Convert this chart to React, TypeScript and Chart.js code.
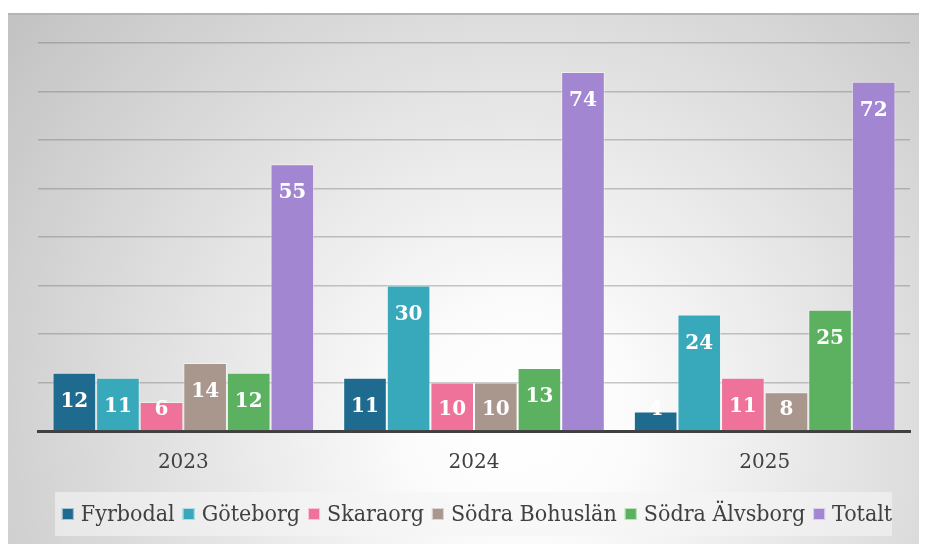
import React, { useEffect, useRef } from "react";
import { Chart, registerables } from "chart.js";

Chart.register(...registerables);

const categories = ["2023", "2024", "2025"];
const seriesNames = ["Fyrbodal", "Göteborg", "Skaraorg", "Södra Bohuslän", "Södra Älvsborg", "Totalt"];
const fyrbodal = [12, 11, 4];
const goteborg = [11, 30, 24];
const skaraorg = [6, 10, 11];
const sodraBohuslan = [14, 10, 8];
const sodraAlvsborg = [12, 13, 25];
const totalt = [55, 74, 72];
const seriesValues = [fyrbodal, goteborg, skaraorg, sodraBohuslan, sodraAlvsborg, totalt];
const seriesColors = ["#1f6b8f", "#37a9bb", "#ee7299", "#a9968c", "#5cb160", "#a286d1"];
const yMax = 80;
const yStep = 10;

const backgroundPlugin = {
  id: "panelBg",
  beforeDraw(chart: any) {
    const { ctx, width, height } = chart;
    ctx.save();
    const g = ctx.createRadialGradient(512, 412, 0, 512, 412, 700);
    g.addColorStop(0, "#ffffff");
    g.addColorStop(0.15, "#fcfcfc");
    g.addColorStop(1, "#bdbdbd");
    ctx.fillStyle = g;
    ctx.fillRect(0, 5, width, height - 5);
    ctx.fillStyle = "#b4b4b4";
    ctx.fillRect(0, 5, width, 2);
    // legend box
    ctx.fillStyle = "rgba(245,245,245,0.6)";
    ctx.fillRect(47, 484, 837, 44);
    ctx.restore();
  },
};

const legendPlugin = {
  id: "customLegend",
  afterDraw(chart: any) {
    const { ctx } = chart;
    ctx.save();
    ctx.font = "23px 'DejaVu Serif Condensed', 'DejaVu Serif', serif";
    ctx.textBaseline = "middle";
    ctx.textAlign = "left";
    const box = 12;
    const gapText = 7;
    const gapItem = 8;
    const items = chart.data.datasets.map((d: any) => ({
      label: d.label,
      color: d.backgroundColor,
      w: ctx.measureText(d.label).width,
    }));
    const total = items.reduce((s: number, it: any) => s + box + gapText + it.w, 0) + gapItem * (items.length - 1);
    let x = 469 - total / 2;
    const cy = 506;
    items.forEach((it: any) => {
      ctx.fillStyle = it.color;
      ctx.fillRect(x, cy - box / 2, box, box);
      ctx.strokeStyle = "rgba(255,255,255,0.6)";
      ctx.lineWidth = 1;
      ctx.strokeRect(x + 0.5, cy - box / 2 + 0.5, box - 1, box - 1);
      ctx.fillStyle = "#404040";
      ctx.fillText(it.label, x + box + gapText, cy + 1);
      x += box + gapText + it.w + gapItem;
    });
    ctx.restore();
  },
};

const valueLabelPlugin = {
  id: "valueLabels",
  afterDatasetsDraw(chart: any) {
    const { ctx } = chart;
    ctx.save();
    ctx.font = "bold 20px 'DejaVu Serif', serif";
    ctx.fillStyle = "#ffffff";
    ctx.textAlign = "center";
    ctx.textBaseline = "middle";
    chart.data.datasets.forEach((ds: any, di: number) => {
      const meta = chart.getDatasetMeta(di);
      meta.data.forEach((bar: any, i: number) => {
        const v = ds.data[i];
        const y = Math.min(bar.y + 29, bar.base - 20);
        ctx.fillText(String(v), bar.x, y);
      });
    });
    ctx.restore();
  },
};

export default function App() {
  const ref = useRef<HTMLCanvasElement | null>(null);
  useEffect(() => {
    if (!ref.current) return;
    const chart = new Chart(ref.current, {
      type: "bar",
      data: {
        labels: categories,
        datasets: seriesNames.map((name, i) => ({
          label: name,
          data: seriesValues[i],
          backgroundColor: seriesColors[i],
          borderColor: "rgba(255,255,255,0.45)",
          borderWidth: 1,
          categoryPercentage: 0.9,
          barPercentage: 1.0,
        })),
      },
      options: {
        responsive: true,
        maintainAspectRatio: false,
        animation: false,
        layout: { padding: { left: 30, right: 17, top: 35, bottom: 49 } },
        plugins: {
          legend: { display: false },
          tooltip: { enabled: false },
        },
        scales: {
          x: {
            grid: { display: false, drawTicks: false },
            border: { display: true, color: "#404040", width: 3 },
            ticks: {
              color: "#404040",
              padding: 20,
              font: { family: "'DejaVu Serif', serif", size: 20 },
            },
          },
          y: {
            min: 0,
            max: yMax,
            ticks: { display: false, stepSize: yStep },
            grid: { color: "rgba(110,110,110,0.38)", lineWidth: 1.5, drawTicks: false },
            border: { display: false },
          },
        },
      },
      plugins: [backgroundPlugin, valueLabelPlugin, legendPlugin],
    });
    return () => chart.destroy();
  }, []);
  return (
    <div style={{ width: 919, height: 536, position: "relative" }}>
      <canvas ref={ref} />
    </div>
  );
}
